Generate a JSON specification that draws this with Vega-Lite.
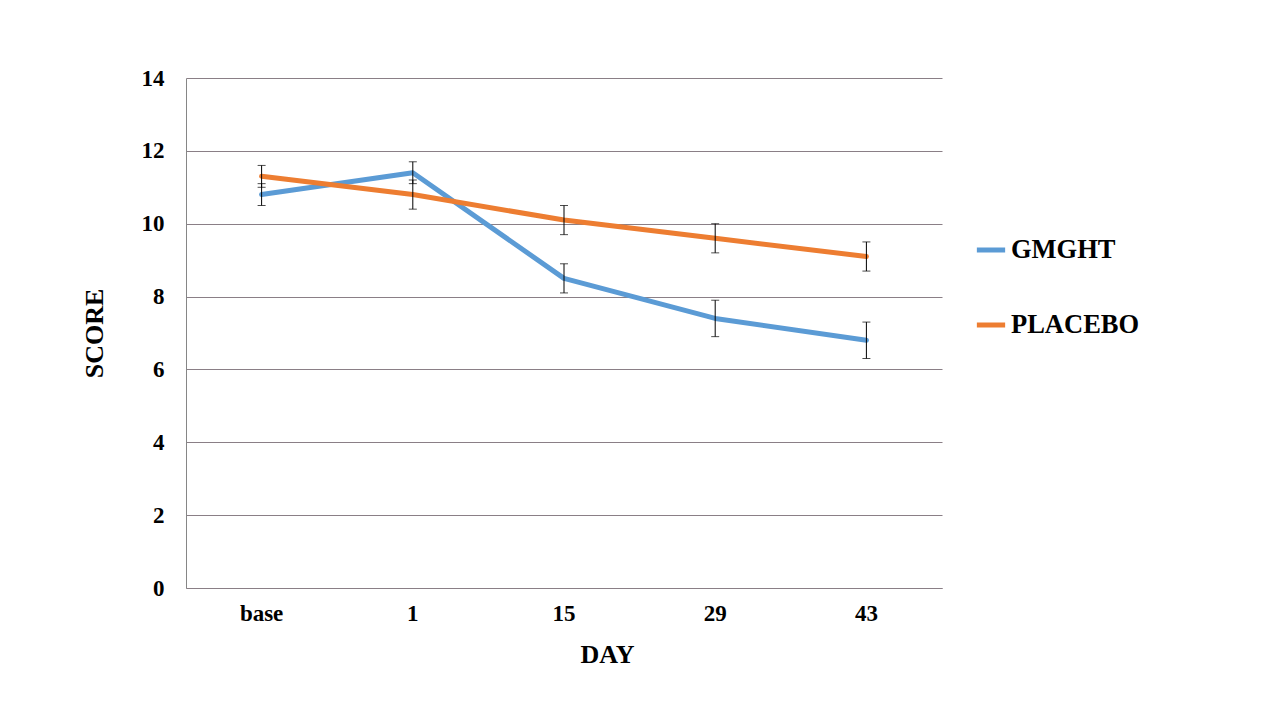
{
  "$schema": "https://vega.github.io/schema/vega-lite/v6.json",
  "width": 756,
  "height": 510,
  "autosize": {"type": "none"},
  "padding": {"left": 186, "top": 78, "right": 338, "bottom": 132},
  "background": "white",
  "config": {
    "font": "Liberation Serif",
    "view": {"stroke": null},
    "axis": {"labelFont": "Liberation Serif", "titleFont": "Liberation Serif", "labelFontWeight": "bold", "titleFontWeight": "bold", "labelColor": "black", "titleColor": "black"}
  },
  "data": {
    "values": [
      {"day": "base", "group": "GMGHT", "score": 10.8, "lo": 10.5, "hi": 11.1},
      {"day": "1", "group": "GMGHT", "score": 11.4, "lo": 11.1, "hi": 11.7},
      {"day": "15", "group": "GMGHT", "score": 8.5, "lo": 8.1, "hi": 8.9},
      {"day": "29", "group": "GMGHT", "score": 7.4, "lo": 6.9, "hi": 7.9},
      {"day": "43", "group": "GMGHT", "score": 6.8, "lo": 6.3, "hi": 7.3},
      {"day": "base", "group": "PLACEBO", "score": 11.3, "lo": 11.0, "hi": 11.6},
      {"day": "1", "group": "PLACEBO", "score": 10.8, "lo": 10.4, "hi": 11.2},
      {"day": "15", "group": "PLACEBO", "score": 10.1, "lo": 9.7, "hi": 10.5},
      {"day": "29", "group": "PLACEBO", "score": 9.6, "lo": 9.2, "hi": 10.0},
      {"day": "43", "group": "PLACEBO", "score": 9.1, "lo": 8.7, "hi": 9.5}
    ]
  },
  "encoding": {
    "x": {
      "field": "day", "type": "ordinal", "sort": ["base", "1", "15", "29", "43"],
      "scale": {"paddingInner": 0, "paddingOuter": 0},
      "axis": {"title": "DAY", "labelAngle": 0, "labelFontSize": 23, "titleFontSize": 26, "labelPadding": 14, "titlePadding": 16, "titleX": 421, "ticks": false, "domainColor": "#8a7f86", "domainWidth": 1, "grid": false}
    }
  },
  "layer": [
    {
      "mark": {"type": "line", "strokeWidth": 5, "strokeCap": "round", "strokeJoin": "round"},
      "encoding": {
        "y": {
          "field": "score", "type": "quantitative",
          "scale": {"domain": [0, 14], "nice": false},
          "axis": {"title": "SCORE", "values": [0, 2, 4, 6, 8, 10, 12, 14], "labelFontSize": 23, "titleFontSize": 26, "labelPadding": 22, "titlePadding": 34, "ticks": false, "domainColor": "#868686", "domainWidth": 1, "gridColor": "#8a7f86", "gridWidth": 1, "gridOpacity": 1}
        },
        "color": {
          "field": "group", "type": "nominal",
          "scale": {"domain": ["GMGHT", "PLACEBO"], "range": ["#5B9BD5", "#ED7D31"]},
          "legend": {
            "title": null, "orient": "none", "legendX": 788, "legendY": 155,
            "symbolType": "stroke", "symbolSize": 800, "symbolStrokeWidth": 5,
            "labelFont": "Liberation Serif", "labelFontWeight": "bold", "labelFontSize": 26.5, "labelColor": "black",
            "labelOffset": 3, "rowPadding": 44
          }
        }
      }
    },
    {
      "mark": {"type": "rule", "color": "black", "strokeWidth": 1},
      "encoding": {
        "y": {"field": "lo", "type": "quantitative"},
        "y2": {"field": "hi"},
        "detail": {"field": "group"}
      }
    },
    {
      "mark": {"type": "tick", "color": "black", "thickness": 1, "size": 8, "orient": "horizontal"},
      "encoding": {
        "y": {"field": "lo", "type": "quantitative"},
        "detail": {"field": "group"}
      }
    },
    {
      "mark": {"type": "tick", "color": "black", "thickness": 1, "size": 8, "orient": "horizontal"},
      "encoding": {
        "y": {"field": "hi", "type": "quantitative"},
        "detail": {"field": "group"}
      }
    }
  ]
}
